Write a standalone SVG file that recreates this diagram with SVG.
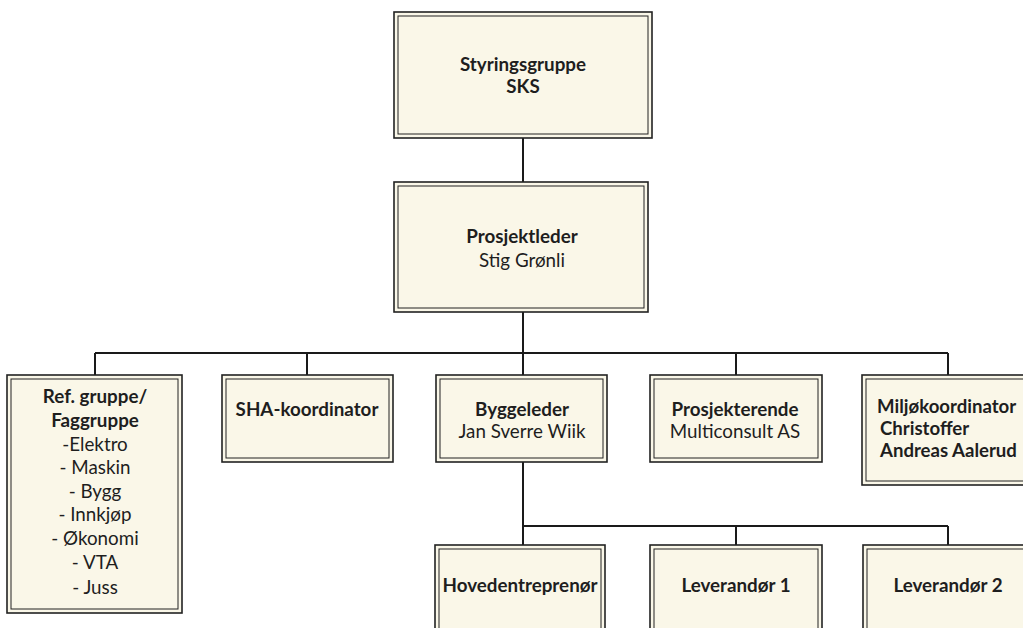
<svg xmlns="http://www.w3.org/2000/svg" width="1023" height="628" viewBox="0 0 1023 628">
<style>
.o{fill:#faf7e8;stroke:#222;stroke-width:1.6}
.i{fill:none;stroke:#222;stroke-width:1}
.t{font-family:Lato,"Open Sans",sans-serif;font-size:18.8px;fill:#1e1e1e;text-anchor:middle}
.b{font-weight:bold}
.l{text-anchor:start;font-size:18.6px}
.c{fill:none;stroke:#1a1a1a;stroke-width:2}
</style>
<rect width="1023" height="628" fill="#ffffff"/>
<g id="connectors">
<path class="c" d="M523 138V182M523 312V353M95 353H948M95 353V375M307 353V375M523 353V375M736 353V375M948 353V375"/>
<path class="c" d="M523 462V526H948M523 526V545M736 526V545M948 526V545"/>
</g>
<g id="styringsgruppe">
<rect class="o" x="394" y="12" width="258" height="126"/><rect class="i" x="398" y="16" width="250" height="118"/>
<text class="t b" x="523" y="71">Styringsgruppe</text>
<text class="t b" x="523" y="93">SKS</text>
</g>
<g id="prosjektleder">
<rect class="o" x="394" y="182" width="254" height="130"/><rect class="i" x="398" y="186" width="246" height="122"/>
<text class="t b" x="522" y="243">Prosjektleder</text>
<text class="t" x="522" y="267">Stig Grønli</text>
</g>
<g id="refgruppe">
<rect class="o" x="7" y="375" width="175" height="238"/><rect class="i" x="11" y="379" width="167" height="230"/>
<text class="t b" x="95" y="403">Ref. gruppe/</text>
<text class="t b" x="95" y="427">Faggruppe</text>
<text class="t" x="95" y="451">-Elektro</text>
<text class="t" x="95" y="474">- Maskin</text>
<text class="t" x="95" y="498">- Bygg</text>
<text class="t" x="95" y="521">- Innkjøp</text>
<text class="t" x="95" y="545">- Økonomi</text>
<text class="t" x="95" y="569">- VTA</text>
<text class="t" x="95" y="594">- Juss</text>
</g>
<g id="sha">
<rect class="o" x="222" y="375" width="171" height="87"/><rect class="i" x="226" y="379" width="163" height="79"/>
<text class="t b" x="307" y="416">SHA-koordinator</text>
</g>
<g id="byggeleder">
<rect class="o" x="436" y="375" width="171" height="87"/><rect class="i" x="440" y="379" width="163" height="79"/>
<text class="t b" x="522" y="416">Byggeleder</text>
<text class="t" x="522" y="438">Jan Sverre Wiik</text>
</g>
<g id="prosjekterende">
<rect class="o" x="650" y="375" width="172" height="87"/><rect class="i" x="654" y="379" width="164" height="79"/>
<text class="t b" x="735" y="416">Prosjekterende</text>
<text class="t" x="735" y="438">Multiconsult AS</text>
</g>
<g id="miljokoordinator">
<rect class="o" x="862" y="375" width="172" height="110"/><rect class="i" x="866" y="379" width="164" height="102"/>
<text class="t b l" x="877" y="413">Miljøkoordinator</text>
<text class="t b l" x="880" y="435">Christoffer</text>
<text class="t b l" x="880" y="457">Andreas Aalerud</text>
</g>
<g id="hovedentreprenor">
<rect class="o" x="435" y="545" width="170" height="95"/><rect class="i" x="439" y="549" width="162" height="87"/>
<text class="t b" x="520" y="592">Hovedentreprenør</text>
</g>
<g id="leverandor1">
<rect class="o" x="650" y="545" width="172" height="95"/><rect class="i" x="654" y="549" width="164" height="87"/>
<text class="t b" x="736" y="592">Leverandør 1</text>
</g>
<g id="leverandor2">
<rect class="o" x="863" y="545" width="172" height="95"/><rect class="i" x="867" y="549" width="164" height="87"/>
<text class="t b" x="948" y="592">Leverandør 2</text>
</g>
</svg>
